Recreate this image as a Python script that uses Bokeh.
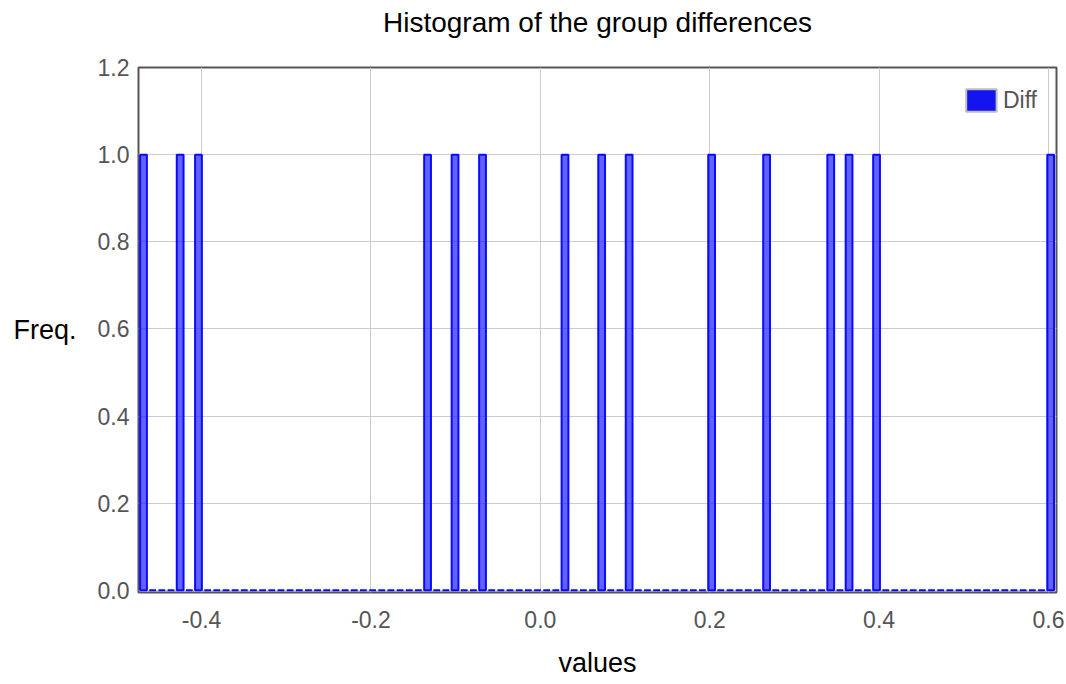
import numpy as np
from bokeh.plotting import figure
from bokeh.models import (Range1d, FixedTicker, NumeralTickFormatter,
                          Legend, LegendItem, Title)
from bokeh.embed import file_html
from bokeh.resources import INLINE

# ---- data ----
title_text = "Histogram of the group differences"
x_label = "values"
y_label = "Freq."
series_name = "Diff"
diff_values = [-0.474, -0.425, -0.404, -0.133, -0.101, -0.068, 0.029, 0.072,
               0.105, 0.202, 0.267, 0.343, 0.365, 0.397, 0.608]
n_bins = 100
x_ticks = [-0.4, -0.2, 0.0, 0.2, 0.4, 0.6]
y_ticks = [0.0, 0.2, 0.4, 0.6, 0.8, 1.0, 1.2]

counts, edges = np.histogram(diff_values, bins=n_bins,
                             range=(min(diff_values), max(diff_values)))
bin_w = edges[1] - edges[0]
pad = bin_w * 0.13

FONT = "Liberation Sans"
x_start, x_end = -0.4745, 0.6095

p = figure(width=1066, height=684, output_backend="svg", toolbar_location=None,
           x_range=Range1d(x_start, x_end), y_range=Range1d(-0.005, 1.2),
           min_border_left=138, min_border_right=10, min_border_top=67,
           min_border_bottom=92)

p.title.text = title_text
p.title.text_font = FONT
p.title.text_font_size = "28px"
p.title.text_font_style = "normal"
p.title.text_color = "#000000"
p.title.align = "center"
p.title.offset = -12
p.title.standoff = 0

# blank spacer between title and plot frame
p.add_layout(Title(text=" ", text_font=FONT, text_font_size="20px",
                   standoff=6), "above")

p.quad(left=edges[:-1] + pad, right=edges[1:] - pad, bottom=0, top=counts,
       fill_color="#2020ff", fill_alpha=0.7, line_color="#0a0aff",
       line_width=2)

# legend swatch (no visible data)
leg_r = p.quad(left=[np.nan], right=[np.nan], bottom=[np.nan], top=[np.nan],
               fill_color="#1414f0", line_color="#bdbdbd", line_width=2)
legend = Legend(items=[LegendItem(label=series_name, renderers=[leg_r])],
                location="top_right", border_line_color=None,
                background_fill_alpha=0, glyph_width=38, glyph_height=28,
                label_standoff=3, padding=0, margin=19,
                label_text_font=FONT, label_text_font_size="23px",
                label_text_color="#555555")
p.add_layout(legend)

for ax in (p.xaxis[0], p.yaxis[0]):
    ax.axis_line_color = None
    ax.major_tick_line_color = None
    ax.minor_tick_line_color = None
    ax.major_tick_out = 0
    ax.major_tick_in = 0
    ax.major_label_text_font = FONT
    ax.major_label_text_font_size = "23px"
    ax.major_label_text_color = "#555555"
    ax.axis_label_text_font = FONT
    ax.axis_label_text_font_size = "27px"
    ax.axis_label_text_font_style = "normal"
    ax.axis_label_text_color = "#000000"
    ax.formatter = NumeralTickFormatter(format="0.0")

p.xaxis.ticker = FixedTicker(ticks=x_ticks)
p.yaxis.ticker = FixedTicker(ticks=y_ticks)
p.xaxis.major_label_standoff = 18
p.yaxis.major_label_standoff = 9
p.xaxis.axis_label = x_label
p.xaxis.axis_label_standoff = 17
p.yaxis.axis_label = y_label
p.yaxis.axis_label_standoff = 18
p.yaxis.axis_label_orientation = "horizontal"

p.xgrid.grid_line_color = "#cccccc"
p.ygrid.grid_line_color = "#cccccc"
p.xgrid.ticker = FixedTicker(ticks=x_ticks)
p.ygrid.ticker = FixedTicker(ticks=y_ticks)

p.outline_line_color = "#555555"
p.outline_line_width = 2
p.background_fill_color = "white"
p.border_fill_color = "white"

open("out.html", "w").write(file_html(p, INLINE))
